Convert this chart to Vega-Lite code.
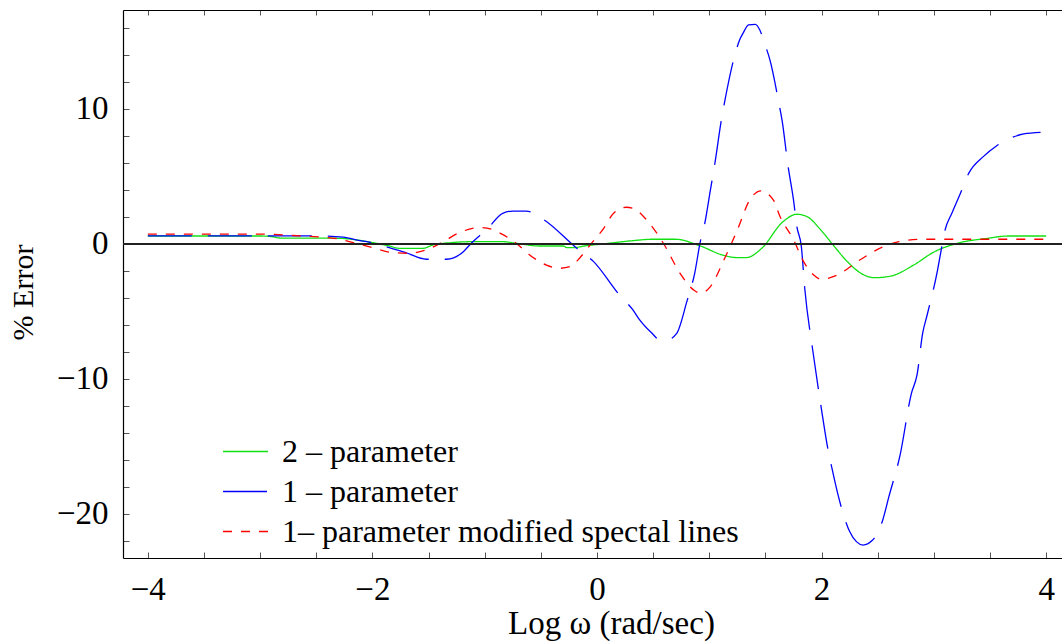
{
  "$schema": "https://vega.github.io/schema/vega-lite/v6.json",
  "width": 939,
  "height": 548,
  "autosize": {"type": "none"},
  "padding": {"left": 123, "top": 10, "right": 0, "bottom": 84},
  "background": "white",
  "data": {"values": [
    {"x": -4.0, "y": 0.59, "series": "2 – parameter"},
    {"x": -3.5, "y": 0.59, "series": "2 – parameter"},
    {"x": -3.0, "y": 0.59, "series": "2 – parameter"},
    {"x": -2.9, "y": 0.55, "series": "2 – parameter"},
    {"x": -2.82, "y": 0.44, "series": "2 – parameter"},
    {"x": -2.5, "y": 0.44, "series": "2 – parameter"},
    {"x": -2.3, "y": 0.42, "series": "2 – parameter"},
    {"x": -2.1, "y": 0.25, "series": "2 – parameter"},
    {"x": -1.96, "y": 0.04, "series": "2 – parameter"},
    {"x": -1.85, "y": -0.15, "series": "2 – parameter"},
    {"x": -1.76, "y": -0.32, "series": "2 – parameter"},
    {"x": -1.55, "y": -0.32, "series": "2 – parameter"},
    {"x": -1.46, "y": -0.07, "series": "2 – parameter"},
    {"x": -1.3, "y": 0.1, "series": "2 – parameter"},
    {"x": -1.1, "y": 0.17, "series": "2 – parameter"},
    {"x": -0.84, "y": 0.17, "series": "2 – parameter"},
    {"x": -0.72, "y": 0.05, "series": "2 – parameter"},
    {"x": -0.51, "y": -0.15, "series": "2 – parameter"},
    {"x": -0.3, "y": -0.15, "series": "2 – parameter"},
    {"x": -0.27, "y": -0.27, "series": "2 – parameter"},
    {"x": -0.21, "y": -0.27, "series": "2 – parameter"},
    {"x": -0.09, "y": -0.12, "series": "2 – parameter"},
    {"x": 0.05, "y": 0.0, "series": "2 – parameter"},
    {"x": 0.3, "y": 0.23, "series": "2 – parameter"},
    {"x": 0.5, "y": 0.35, "series": "2 – parameter"},
    {"x": 0.7, "y": 0.35, "series": "2 – parameter"},
    {"x": 0.92, "y": -0.15, "series": "2 – parameter"},
    {"x": 1.13, "y": -0.85, "series": "2 – parameter"},
    {"x": 1.25, "y": -1.01, "series": "2 – parameter"},
    {"x": 1.33, "y": -1.01, "series": "2 – parameter"},
    {"x": 1.47, "y": -0.3, "series": "2 – parameter"},
    {"x": 1.65, "y": 1.6, "series": "2 – parameter"},
    {"x": 1.78, "y": 2.2, "series": "2 – parameter"},
    {"x": 1.87, "y": 2.03, "series": "2 – parameter"},
    {"x": 1.99, "y": 1.07, "series": "2 – parameter"},
    {"x": 2.11, "y": -0.15, "series": "2 – parameter"},
    {"x": 2.23, "y": -1.31, "series": "2 – parameter"},
    {"x": 2.35, "y": -2.17, "series": "2 – parameter"},
    {"x": 2.47, "y": -2.5, "series": "2 – parameter"},
    {"x": 2.62, "y": -2.37, "series": "2 – parameter"},
    {"x": 2.82, "y": -1.56, "series": "2 – parameter"},
    {"x": 3.0, "y": -0.6, "series": "2 – parameter"},
    {"x": 3.2, "y": 0.03, "series": "2 – parameter"},
    {"x": 3.48, "y": 0.42, "series": "2 – parameter"},
    {"x": 3.66, "y": 0.59, "series": "2 – parameter"},
    {"x": 4.0, "y": 0.59, "series": "2 – parameter"},

    {"x": -4.0, "y": 0.6, "series": "1 – parameter"},
    {"x": -3.0, "y": 0.6, "series": "1 – parameter"},
    {"x": -2.47, "y": 0.59, "series": "1 – parameter"},
    {"x": -2.26, "y": 0.5, "series": "1 – parameter"},
    {"x": -2.11, "y": 0.25, "series": "1 – parameter"},
    {"x": -2.05, "y": 0.17, "series": "1 – parameter"},
    {"x": -1.9, "y": -0.15, "series": "1 – parameter"},
    {"x": -1.7, "y": -0.65, "series": "1 – parameter"},
    {"x": -1.52, "y": -1.13, "series": "1 – parameter"},
    {"x": -1.34, "y": -1.13, "series": "1 – parameter"},
    {"x": -1.19, "y": -0.57, "series": "1 – parameter"},
    {"x": -1.12, "y": 0.05, "series": "1 – parameter"},
    {"x": -0.98, "y": 1.09, "series": "1 – parameter"},
    {"x": -0.84, "y": 2.27, "series": "1 – parameter"},
    {"x": -0.75, "y": 2.44, "series": "1 – parameter"},
    {"x": -0.63, "y": 2.44, "series": "1 – parameter"},
    {"x": -0.48, "y": 1.83, "series": "1 – parameter"},
    {"x": -0.18, "y": -0.32, "series": "1 – parameter"},
    {"x": -0.03, "y": -1.31, "series": "1 – parameter"},
    {"x": 0.2, "y": -3.78, "series": "1 – parameter"},
    {"x": 0.32, "y": -4.89, "series": "1 – parameter"},
    {"x": 0.38, "y": -5.63, "series": "1 – parameter"},
    {"x": 0.49, "y": -6.62, "series": "1 – parameter"},
    {"x": 0.56, "y": -7.11, "series": "1 – parameter"},
    {"x": 0.62, "y": -7.11, "series": "1 – parameter"},
    {"x": 0.71, "y": -6.62, "series": "1 – parameter"},
    {"x": 0.8, "y": -4.27, "series": "1 – parameter"},
    {"x": 0.87, "y": -2.17, "series": "1 – parameter"},
    {"x": 0.92, "y": 0.17, "series": "1 – parameter"},
    {"x": 0.96, "y": 1.53, "series": "1 – parameter"},
    {"x": 1.01, "y": 4.0, "series": "1 – parameter"},
    {"x": 1.05, "y": 5.98, "series": "1 – parameter"},
    {"x": 1.11, "y": 9.31, "series": "1 – parameter"},
    {"x": 1.14, "y": 10.67, "series": "1 – parameter"},
    {"x": 1.22, "y": 13.76, "series": "1 – parameter"},
    {"x": 1.27, "y": 15.11, "series": "1 – parameter"},
    {"x": 1.3, "y": 15.6, "series": "1 – parameter"},
    {"x": 1.35, "y": 16.22, "series": "1 – parameter"},
    {"x": 1.41, "y": 16.27, "series": "1 – parameter"},
    {"x": 1.45, "y": 15.85, "series": "1 – parameter"},
    {"x": 1.49, "y": 14.91, "series": "1 – parameter"},
    {"x": 1.54, "y": 13.63, "series": "1 – parameter"},
    {"x": 1.62, "y": 10.42, "series": "1 – parameter"},
    {"x": 1.65, "y": 9.06, "series": "1 – parameter"},
    {"x": 1.7, "y": 5.85, "series": "1 – parameter"},
    {"x": 1.75, "y": 3.26, "series": "1 – parameter"},
    {"x": 1.78, "y": 1.28, "series": "1 – parameter"},
    {"x": 1.82, "y": -0.2, "series": "1 – parameter"},
    {"x": 1.85, "y": -3.28, "series": "1 – parameter"},
    {"x": 1.92, "y": -7.8, "series": "1 – parameter"},
    {"x": 2.0, "y": -12.3, "series": "1 – parameter"},
    {"x": 2.05, "y": -14.9, "series": "1 – parameter"},
    {"x": 2.1, "y": -16.9, "series": "1 – parameter"},
    {"x": 2.15, "y": -18.7, "series": "1 – parameter"},
    {"x": 2.25, "y": -21.3, "series": "1 – parameter"},
    {"x": 2.31, "y": -22.05, "series": "1 – parameter"},
    {"x": 2.37, "y": -22.3, "series": "1 – parameter"},
    {"x": 2.45, "y": -21.97, "series": "1 – parameter"},
    {"x": 2.54, "y": -20.57, "series": "1 – parameter"},
    {"x": 2.6, "y": -18.7, "series": "1 – parameter"},
    {"x": 2.7, "y": -15.6, "series": "1 – parameter"},
    {"x": 2.8, "y": -11.06, "series": "1 – parameter"},
    {"x": 2.85, "y": -9.7, "series": "1 – parameter"},
    {"x": 2.9, "y": -6.62, "series": "1 – parameter"},
    {"x": 2.94, "y": -5.26, "series": "1 – parameter"},
    {"x": 3.03, "y": -2.05, "series": "1 – parameter"},
    {"x": 3.06, "y": -0.69, "series": "1 – parameter"},
    {"x": 3.1, "y": 1.04, "series": "1 – parameter"},
    {"x": 3.16, "y": 2.27, "series": "1 – parameter"},
    {"x": 3.23, "y": 3.63, "series": "1 – parameter"},
    {"x": 3.31, "y": 5.23, "series": "1 – parameter"},
    {"x": 3.44, "y": 6.47, "series": "1 – parameter"},
    {"x": 3.56, "y": 7.28, "series": "1 – parameter"},
    {"x": 3.68, "y": 7.83, "series": "1 – parameter"},
    {"x": 3.8, "y": 8.15, "series": "1 – parameter"},
    {"x": 3.95, "y": 8.27, "series": "1 – parameter"},

    {"x": -4.0, "y": 0.73, "series": "1– parameter modified spectal lines"},
    {"x": -3.0, "y": 0.73, "series": "1– parameter modified spectal lines"},
    {"x": -2.65, "y": 0.6, "series": "1– parameter modified spectal lines"},
    {"x": -2.32, "y": 0.4, "series": "1– parameter modified spectal lines"},
    {"x": -2.17, "y": 0.1, "series": "1– parameter modified spectal lines"},
    {"x": -1.98, "y": -0.32, "series": "1– parameter modified spectal lines"},
    {"x": -1.82, "y": -0.64, "series": "1– parameter modified spectal lines"},
    {"x": -1.67, "y": -0.69, "series": "1– parameter modified spectal lines"},
    {"x": -1.52, "y": -0.44, "series": "1– parameter modified spectal lines"},
    {"x": -1.37, "y": 0.17, "series": "1– parameter modified spectal lines"},
    {"x": -1.22, "y": 0.86, "series": "1– parameter modified spectal lines"},
    {"x": -1.04, "y": 1.21, "series": "1– parameter modified spectal lines"},
    {"x": -0.98, "y": 1.18, "series": "1– parameter modified spectal lines"},
    {"x": -0.86, "y": 0.79, "series": "1– parameter modified spectal lines"},
    {"x": -0.72, "y": 0.05, "series": "1– parameter modified spectal lines"},
    {"x": -0.6, "y": -0.81, "series": "1– parameter modified spectal lines"},
    {"x": -0.45, "y": -1.56, "series": "1– parameter modified spectal lines"},
    {"x": -0.33, "y": -1.8, "series": "1– parameter modified spectal lines"},
    {"x": -0.24, "y": -1.68, "series": "1– parameter modified spectal lines"},
    {"x": -0.15, "y": -1.0, "series": "1– parameter modified spectal lines"},
    {"x": -0.06, "y": -0.06, "series": "1– parameter modified spectal lines"},
    {"x": 0.06, "y": 1.16, "series": "1– parameter modified spectal lines"},
    {"x": 0.15, "y": 2.3, "series": "1– parameter modified spectal lines"},
    {"x": 0.26, "y": 2.72, "series": "1– parameter modified spectal lines"},
    {"x": 0.32, "y": 2.65, "series": "1– parameter modified spectal lines"},
    {"x": 0.44, "y": 1.8, "series": "1– parameter modified spectal lines"},
    {"x": 0.59, "y": 0.07, "series": "1– parameter modified spectal lines"},
    {"x": 0.74, "y": -2.17, "series": "1– parameter modified spectal lines"},
    {"x": 0.86, "y": -3.4, "series": "1– parameter modified spectal lines"},
    {"x": 0.92, "y": -3.65, "series": "1– parameter modified spectal lines"},
    {"x": 1.01, "y": -3.16, "series": "1– parameter modified spectal lines"},
    {"x": 1.13, "y": -1.19, "series": "1– parameter modified spectal lines"},
    {"x": 1.25, "y": 1.04, "series": "1– parameter modified spectal lines"},
    {"x": 1.36, "y": 3.26, "series": "1– parameter modified spectal lines"},
    {"x": 1.46, "y": 3.94, "series": "1– parameter modified spectal lines"},
    {"x": 1.57, "y": 3.26, "series": "1– parameter modified spectal lines"},
    {"x": 1.63, "y": 2.03, "series": "1– parameter modified spectal lines"},
    {"x": 1.75, "y": 0.32, "series": "1– parameter modified spectal lines"},
    {"x": 1.84, "y": -1.31, "series": "1– parameter modified spectal lines"},
    {"x": 1.93, "y": -2.3, "series": "1– parameter modified spectal lines"},
    {"x": 2.0, "y": -2.62, "series": "1– parameter modified spectal lines"},
    {"x": 2.14, "y": -2.3, "series": "1– parameter modified spectal lines"},
    {"x": 2.34, "y": -1.19, "series": "1– parameter modified spectal lines"},
    {"x": 2.55, "y": -0.2, "series": "1– parameter modified spectal lines"},
    {"x": 2.69, "y": 0.17, "series": "1– parameter modified spectal lines"},
    {"x": 2.88, "y": 0.35, "series": "1– parameter modified spectal lines"},
    {"x": 4.0, "y": 0.35, "series": "1– parameter modified spectal lines"}
  ]},
  "resolve": {"axis": {"x": "independent", "y": "independent"}},
  "layer": [
    {
      "mark": {"type": "line", "strokeWidth": 1.3, "clip": true, "interpolate": "monotone"},
      "encoding": {
        "x": {
          "field": "x", "type": "quantitative",
          "scale": {"domain": [-4.221, 4.141], "nice": false, "zero": false},
          "axis": {
            "orient": "bottom",
            "values": [-4, -3.5, -3, -2.5, -2, -1.5, -1, -0.5, 0, 0.5, 1, 1.5, 2, 2.5, 3, 3.5, 4],
            "labelExpr": "datum.value % 2 == 0 ? replace(format(datum.value, 'd'), '-', '−') : ''",
            "labelOverlap": false, "labelFlush": false, "labelBound": false,
            "labelFontSize": 33, "labelPadding": 21,
            "tickSize": -6,
            "title": "Log ω (rad/sec)", "titleFontSize": 33,
            "titleX": 488, "titleY": 49, "titleAnchor": null
          }
        },
        "y": {
          "field": "y", "type": "quantitative",
          "scale": {"domain": [-23.26, 17.33], "nice": false, "zero": false},
          "axis": {
            "orient": "left",
            "values": [-22, -20, -18, -16, -14, -12, -10, -8, -6, -4, -2, 0, 2, 4, 6, 8, 10, 12, 14, 16],
            "labelExpr": "datum.value % 10 == 0 ? replace(format(datum.value, 'd'), '-', '−') : ''",
            "labelOverlap": false, "labelFlush": false, "labelBound": false,
            "labelFontSize": 33, "labelPadding": 21,
            "tickSize": -6,
            "title": "% Error", "titleFontSize": 30,
            "titleAngle": 270, "titleAlign": "center", "titleBaseline": "alphabetic",
            "titleX": -91, "titleY": 282
          }
        },
        "color": {
          "field": "series", "type": "nominal", "title": null,
          "sort": ["2 – parameter", "1 – parameter", "1– parameter modified spectal lines"],
          "scale": {
            "domain": ["2 – parameter", "1 – parameter", "1– parameter modified spectal lines"],
            "range": ["#11e011", "#0000ff", "#ff0000"]
          }
        },
        "strokeDash": {
          "field": "series", "type": "nominal", "title": null,
          "sort": ["2 – parameter", "1 – parameter", "1– parameter modified spectal lines"],
          "scale": {
            "domain": ["2 – parameter", "1 – parameter", "1– parameter modified spectal lines"],
            "range": [[1, 0], [44, 16], [9, 9]]
          }
        }
      }
    },
    {
      "mark": {"type": "rule", "color": "#222222", "strokeWidth": 1.2},
      "encoding": {
        "x": {
          "datum": -4.221, "type": "quantitative",
          "scale": {"domain": [-4.221, 4.141], "nice": false, "zero": false},
          "axis": {
            "orient": "top",
            "values": [-4, -3.5, -3, -2.5, -2, -1.5, -1, -0.5, 0, 0.5, 1, 1.5, 2, 2.5, 3, 3.5, 4],
            "labels": false, "tickSize": -5, "title": null
          }
        },
        "x2": {"datum": 4.141},
        "y": {"datum": 0, "type": "quantitative", "axis": null}
      }
    }
  ],
  "config": {
    "font": "Liberation Serif",
    "view": {"stroke": null},
    "axis": {
      "grid": false,
      "labelFont": "Liberation Serif",
      "titleFont": "Liberation Serif",
      "labelColor": "black",
      "titleColor": "black",
      "titleFontWeight": "normal",
      "domainColor": "black",
      "domainWidth": 1.2,
      "tickColor": "#555555",
      "tickWidth": 1
    },
    "legend": {
      "orient": "none",
      "legendX": 99,
      "legendY": 418,
      "padding": 0,
      "labelFont": "Liberation Serif",
      "labelFontSize": 32,
      "labelColor": "black",
      "labelLimit": 800,
      "labelOffset": 13,
      "symbolType": "stroke",
      "symbolSize": 2025,
      "symbolStrokeWidth": 1.3,
      "rowPadding": -8
    }
  }
}
